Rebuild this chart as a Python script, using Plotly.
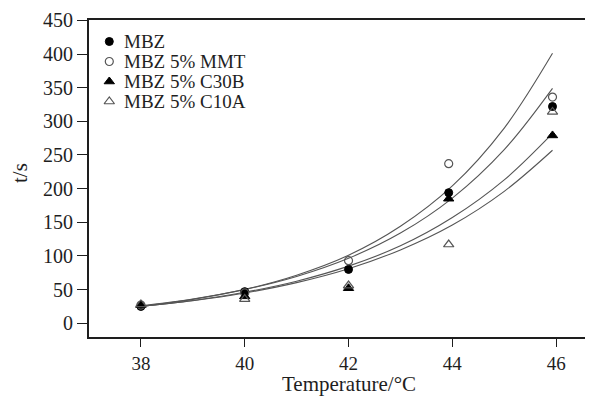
import plotly.graph_objects as go

# ---- data ----
temps = [38, 40, 42, 43.93, 45.93]
series_names = ["MBZ", "MBZ 5% MMT", "MBZ 5% C30B", "MBZ 5% C10A"]
mbz = [25, 47, 80, 194, 322]
mbz_mmt = [27, 45, 93, 237, 336]
mbz_c30b = [27, 40, 52, 185, 279]
mbz_c10a = [28, 36, 56, 117, 314]

# fitted (exponential) curves
fit_x = [38, 39, 40, 41, 42, 43, 44, 45, 45.93]
fit_mmt = [25, 35.5, 50.3, 71.4, 101, 144, 204, 290, 401]
fit_mbz = [26, 36.1, 50.1, 69.5, 96.5, 134, 186, 258, 349]
fit_c30b = [25, 33.9, 46.1, 62.5, 84.9, 115, 157, 213, 282]
fit_c10a = [25, 33.5, 45.0, 60.4, 81.0, 109, 146, 196, 257]

x_ticks = [38, 40, 42, 44, 46]
y_ticks = [0, 50, 100, 150, 200, 250, 300, 350, 400, 450]

FONT = "Liberation Serif, Times New Roman, serif"
INK = "#1e1e1e"

# page has an 8px body margin -> figure is drawn 8px smaller
W, H = 585, 389
ML, MR, MT, MB = 81, 0, 12, 60
PW, PH = W - ML - MR, H - MT - MB

fig = go.Figure()

for fy in [fit_mmt, fit_mbz, fit_c30b, fit_c10a]:
    fig.add_trace(go.Scatter(
        x=fit_x, y=fy, mode="lines", showlegend=False,
        line=dict(color="#555555", width=1.1, shape="spline", smoothing=1.0),
        hoverinfo="skip"))

styles = [
    dict(symbol="circle", size=8, color="black", line=dict(color="black", width=1)),
    dict(symbol="circle-open", size=8, color="#555555", line=dict(color="#555555", width=1.2)),
    dict(symbol="triangle-up", size=9, color="black", line=dict(color="black", width=1)),
    dict(symbol="triangle-up-open", size=9, color="#555555", line=dict(color="#555555", width=1.2)),
]
for name, ys, st in zip(series_names, [mbz, mbz_mmt, mbz_c30b, mbz_c10a], styles):
    fig.add_trace(go.Scatter(x=temps, y=ys, mode="markers", name=name, marker=st,
                             showlegend=False))

# hand-made legend (tighter rows than plotly's legend allows)
row_px = [33.5, 53.5, 73.5, 93.5]          # figure px from top
leg_y = [(H - MB - r) / PH for r in row_px]
sym_x = (101.3 - ML) / PW
txt_x = (114.5 - ML) / PW
annotations = []
for name, st, yy in zip(series_names, styles, leg_y):
    fig.add_trace(go.Scatter(x=[sym_x], y=[yy], xaxis="x2", yaxis="y2", mode="markers",
                             marker=st, showlegend=False, hoverinfo="skip"))
    annotations.append(dict(text=name, xref="x2", yref="y2", x=txt_x, y=yy,
                            xanchor="left", yanchor="middle", showarrow=False,
                            borderpad=0,
                            font=dict(family=FONT, size=19, color=INK)))

annotations.append(dict(text="Temperature/°C", xref="paper", yref="paper",
                        x=(341 - ML) / PW, y=(H - MB - (H - 0.5)) / PH,
                        xanchor="center", yanchor="bottom",
                        showarrow=False, borderpad=0,
                        font=dict(family=FONT, size=21, color=INK)))
annotations.append(dict(text="t/s", xref="paper", yref="paper", textangle=-90,
                        x=(12 - ML) / PW, y=(H - MB - 165) / PH, xanchor="center",
                        yanchor="middle", showarrow=False,
                        font=dict(family=FONT, size=21, color=INK)))

fig.update_layout(
    width=W, height=H,
    margin=dict(l=ML, r=MR, t=MT, b=MB, autoexpand=False),
    paper_bgcolor="white", plot_bgcolor="white",
    font=dict(family=FONT, size=20, color=INK),
    showlegend=False,
    xaxis=dict(range=[37.0, 46.71], tickvals=x_ticks, ticktext=[str(v) for v in x_ticks],
               ticks="outside", ticklen=8, tickwidth=1.2, tickcolor=INK,
               showline=True, linecolor=INK, linewidth=2, mirror=True,
               showgrid=False, zeroline=False, tickfont=dict(size=19)),
    yaxis=dict(range=[-20.4, 450.5], tickvals=y_ticks, ticktext=[str(v) for v in y_ticks],
               ticks="outside", ticklen=10, tickwidth=1.2, tickcolor=INK,
               showline=True, linecolor=INK, linewidth=2,
               showgrid=False, zeroline=False, tickfont=dict(size=20)),
    xaxis2=dict(range=[0, 1], overlaying="x", visible=False, fixedrange=True),
    yaxis2=dict(range=[0, 1], overlaying="y", visible=False, fixedrange=True),
    annotations=annotations,
)

fig.write_html("out.html")
